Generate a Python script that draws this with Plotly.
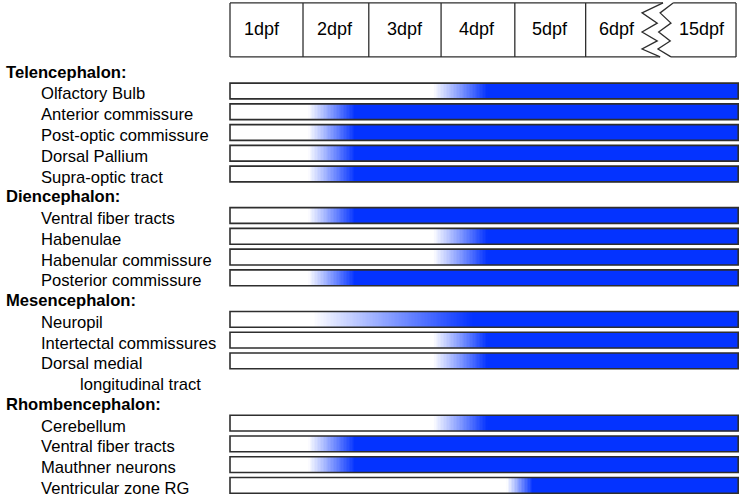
import numpy as np
import plotly.graph_objects as go

# ---------------- data ----------------
row_labels = ["Telencephalon:", "Olfactory Bulb", "Anterior commissure", "Post-optic commissure",
              "Dorsal Pallium", "Supra-optic tract", "Diencephalon:", "Ventral fiber tracts",
              "Habenulae", "Habenular commissure", "Posterior commissure", "Mesencephalon:",
              "Neuropil", "Intertectal commissures", "Dorsal medial", "longitudinal tract",
              "Rhombencephalon:", "Cerebellum", "Ventral fiber tracts", "Mauthner neurons",
              "Ventricular zone RG"]
row_kind = ["region", "item", "item", "item", "item", "item", "region", "item", "item", "item",
            "item", "region", "item", "item", "item", "cont", "region", "item", "item", "item", "item"]
# onset of expression (start / end of the white -> blue fade), in timeline units
fade_start = [None, 2.81, 1.08, 1.08, 1.08, 1.08, None, 1.08, 2.81, 2.81, 1.08, None,
              1.15, 2.81, 2.81, None, None, 2.81, 1.08, 1.08, 3.83]
fade_end = [None, 3.56, 1.73, 1.73, 1.73, 1.73, None, 1.73, 3.56, 3.56, 1.73, None,
            3.36, 3.56, 3.56, None, None, 3.56, 1.73, 1.73, 4.19]

day_labels = ["1dpf", "2dpf", "3dpf", "4dpf", "5dpf", "6dpf", "15dpf"]
day_label_pos = [0.44, 1.45, 2.42, 3.42, 4.43, 5.35, 6.53]
day_dividers = [1.01, 1.92, 2.92, 3.94, 4.92]
timeline_end = 7.0
bar_end = 7.03

BLUE = "#0433ff"
LINE = "#2e2e2e"
FONT = "Liberation Sans, Arial, sans-serif"

fig = go.Figure()

# ---------------- bars ----------------
edges = np.linspace(0, bar_end, 352)
mids = (edges[:-1] + edges[1:]) / 2
shapes = []
annotations = []
for i, (lab, kind) in enumerate(zip(row_labels, row_kind)):
    if kind == "region":
        annotations.append(dict(x=-3.126, y=i, xref="x", yref="y", text="<b>%s</b>" % lab,
                                showarrow=False, xanchor="left", yanchor="middle", yshift=-2,
                                font=dict(size=16.6, color="black", family=FONT)))
        continue
    indent = -2.642 if kind == "item" else -2.103
    annotations.append(dict(x=indent, y=i, xref="x", yref="y", text=lab, showarrow=False,
                            xanchor="left", yanchor="middle", yshift=-3,
                            font=dict(size=16.6, color="black", family=FONT)))
    if fade_start[i] is None:
        continue
    s, e = fade_start[i], fade_end[i]
    z = np.clip((mids - s) / (e - s), 0, 1)
    fig.add_trace(go.Heatmap(x=edges, y=[i - 0.38, i + 0.38], z=[z], zmin=0, zmax=1,
                             colorscale=[[0, "white"], [1, BLUE]], showscale=False,
                             hoverinfo="skip"))
    shapes.append(dict(type="rect", xref="x", yref="y", x0=0, x1=bar_end, y0=i - 0.38, y1=i + 0.38,
                       line=dict(color=LINE, width=1.6), fillcolor="rgba(0,0,0,0)"))

# ---------------- timeline header ----------------
yt, yb = -3.24, -0.64
zig_left = [(5.99, -3.24), (5.70, -2.76), (5.91, -2.27), (5.70, -1.84), (5.91, -1.41),
            (5.70, -1.02), (5.95, -0.64)]
zig_right = [(6.13, -3.24), (5.95, -2.76), (6.10, -2.27), (5.93, -1.84), (6.09, -1.41),
             (5.92, -1.02), (6.10, -0.64)]
hl = dict(color=LINE, width=1.3)
shapes.append(dict(type="line", xref="x", yref="y", x0=0, x1=zig_left[0][0], y0=yt, y1=yt, line=hl))
shapes.append(dict(type="line", xref="x", yref="y", x0=0, x1=zig_left[-1][0], y0=yb, y1=yb, line=hl))
shapes.append(dict(type="line", xref="x", yref="y", x0=zig_right[0][0], x1=timeline_end, y0=yt, y1=yt, line=hl))
shapes.append(dict(type="line", xref="x", yref="y", x0=zig_right[-1][0], x1=timeline_end, y0=yb, y1=yb, line=hl))
for xd in [0] + day_dividers + [timeline_end]:
    shapes.append(dict(type="line", xref="x", yref="y", x0=xd, x1=xd, y0=yt, y1=yb, line=hl))
for zz in (zig_left, zig_right):
    path = "M " + " L ".join("%g,%g" % p for p in zz)
    shapes.append(dict(type="path", xref="x", yref="y", path=path, line=hl))
for lab, xp in zip(day_labels, day_label_pos):
    annotations.append(dict(x=xp, y=-1.98, xref="x", yref="y", text=lab, showarrow=False,
                            xanchor="center", yanchor="middle",
                            font=dict(size=18, color="black", family=FONT)))

fig.update_layout(
    width=744, height=497, margin=dict(l=0, r=0, t=0, b=0),
    paper_bgcolor="white", plot_bgcolor="white", showlegend=False,
    shapes=shapes, annotations=annotations,
    xaxis=dict(range=[-3.1816, 7.1103], visible=False, fixedrange=True),
    yaxis=dict(range=[20.558, -3.382], visible=False, fixedrange=True),
)
# remove the browser's default 8px body margin so the 744x497 figure fills the window exactly
fig.write_html("out.html", config={"displayModeBar": False},
               post_script="document.body.style.margin='0';document.body.style.overflow='hidden';")
